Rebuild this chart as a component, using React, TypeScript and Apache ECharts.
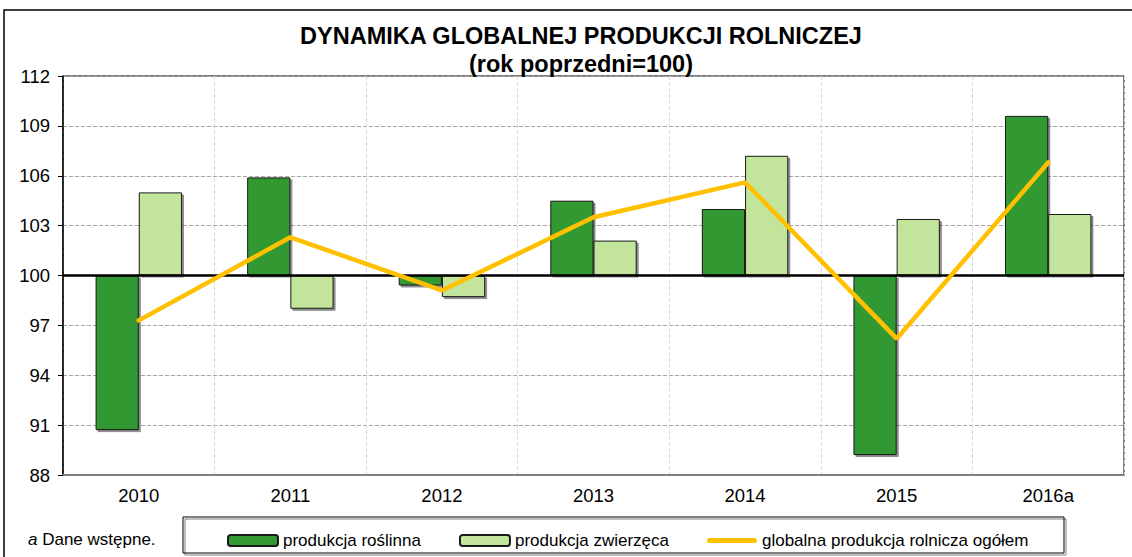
import React, { useEffect, useRef } from "react";
import * as echarts from "echarts";

const categories = ["2010", "2011", "2012", "2013", "2014", "2015", "2016a"];
const plantProduction = [90.7, 105.9, 99.4, 104.5, 104.0, 89.2, 109.6];
const animalProduction = [105.0, 98.0, 98.7, 102.1, 107.2, 103.4, 103.7];
const totalProduction = [97.3, 102.3, 99.1, 103.5, 105.6, 96.2, 106.8];
const BASE = 100;

export default function App() {
  const ref = useRef<HTMLDivElement>(null);
  useEffect(() => {
    if (!ref.current) return;
    const chart = echarts.init(ref.current, null, { renderer: "svg" });
    const font = "Arial, 'Liberation Sans', sans-serif";
    const rel = (arr: number[]) => arr.map((v) => +(v - BASE).toFixed(2));
    chart.setOption({
      animation: false,
      backgroundColor: "#fff",
      textStyle: { fontFamily: font },
      title: {
        text: "DYNAMIKA GLOBALNEJ PRODUKCJI ROLNICZEJ\n(rok poprzedni=100)",
        left: 576,
        textAlign: "center",
        top: 17,
        textStyle: { fontSize: 23.5, fontWeight: "bold", color: "#000", lineHeight: 28, fontFamily: font },
      },
      grid: {
        left: 63,
        right: 8,
        top: 76,
        bottom: 82,
        show: true,
        borderColor: "#000",
        borderWidth: 1,
        backgroundColor: "transparent",
      },
      legend: {
        left: 222,
        top: 527,
        itemWidth: 50,
        itemHeight: 11,
        itemGap: 38,
        textStyle: { fontSize: 17, color: "#000", fontFamily: font },
        data: [
          { name: "produkcja roślinna" },
          { name: "produkcja zwierzęca" },
          {
            name: "globalna produkcja rolnicza ogółem",
            icon: "path://M2.5,0 L47.5,0 A2.5,2.5 0 0 1 47.5,5 L2.5,5 A2.5,2.5 0 0 1 2.5,0 Z",
            itemStyle: { color: "#ffc000", borderWidth: 0 },
          },
        ],
      },
      xAxis: {
        type: "category",
        data: categories,
        boundaryGap: true,
        axisLine: { show: true, onZero: false, lineStyle: { color: "#808080", width: 2 } },
        axisTick: { show: false },
        axisLabel: { fontSize: 18.5, color: "#000", margin: 11, fontFamily: font },
        splitLine: { show: true, lineStyle: { color: "#d9d9d9", type: "dashed", width: 1 } },
      },
      yAxis: {
        type: "value",
        min: -12,
        max: 12,
        interval: 3,
        axisLine: { show: true, lineStyle: { color: "#000", width: 1.5 } },
        axisTick: { show: true, length: 5, lineStyle: { color: "#000" } },
        axisLabel: {
          fontSize: 18.5,
          color: "#000",
          margin: 13,
          fontFamily: font,
          formatter: (v: number) => String(Math.round(v + BASE)),
        },
        splitLine: { show: true, lineStyle: { color: "#a6a6a6", type: "dashed", width: 1 } },
      },
      series: [
        {
          name: "produkcja roślinna",
          type: "bar",
          data: rel(plantProduction),
          barGap: "0%",
          barCategoryGap: "43%",
          itemStyle: {
            color: "#339933",
            borderColor: "#1a1a1a",
            borderWidth: 1,
            shadowColor: "rgba(0,0,0,0.45)",
            shadowOffsetX: 2,
            shadowOffsetY: 2,
            shadowBlur: 0,
          },
          markLine: {
            silent: true,
            symbol: "none",
            label: { show: false },
            lineStyle: { color: "#000", type: "solid", width: 2.5 },
            data: [{ yAxis: 0 }],
            z: 4,
          },
        },
        {
          name: "produkcja zwierzęca",
          type: "bar",
          data: rel(animalProduction),
          itemStyle: {
            color: "#c3e59b",
            borderColor: "#1a1a1a",
            borderWidth: 1,
            shadowColor: "rgba(0,0,0,0.45)",
            shadowOffsetX: 2,
            shadowOffsetY: 2,
            shadowBlur: 0,
          },
        },
        {
          name: "globalna produkcja rolnicza ogółem",
          type: "line",
          data: rel(totalProduction),
          symbol: "none",
          z: 5,
          color: "#ffc000",
          lineStyle: { color: "#ffc000", width: 4.5, cap: "round" },
        },
      ],
      graphic: [
        {
          type: "rect",
          shape: { x: 4, y: 10, width: 1140, height: 600 },
          style: { fill: "none", stroke: "#000", lineWidth: 1.5 },
          silent: true,
        },
        {
          type: "rect",
          shape: { x: 183, y: 517, width: 881, height: 36 },
          style: { fill: "none", stroke: "#000", lineWidth: 1, shadowColor: "rgba(0,0,0,0.5)", shadowOffsetX: 2, shadowOffsetY: 2 },
          silent: true,
        },
        {
          type: "text",
          x: 28,
          y: 531,
          style: {
            text: "{i|a} Dane wstępne.",
            rich: { i: { fontStyle: "italic", fontSize: 17, fontFamily: font, fill: "#000" } },
            fontSize: 17,
            fontFamily: font,
            fill: "#000",
          },
        },
      ],
    });
    return () => chart.dispose();
  }, []);
  return (
    <div
      ref={ref}
      style={{ position: "absolute", left: 0, top: 0, width: 1132, height: 557 }}
    />
  );
}
